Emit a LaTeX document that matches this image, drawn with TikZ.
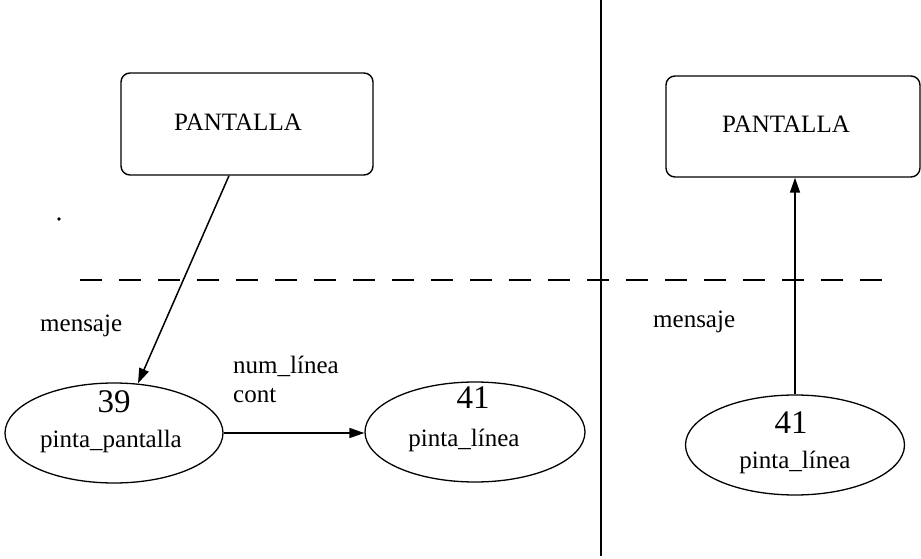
\documentclass[tikz,border=0pt]{standalone}
\usepackage{fontspec}
\setmainfont{Liberation Serif}
\usetikzlibrary{arrows.meta,shapes.geometric,calc}
\begin{document}
\begin{tikzpicture}[x=1pt,y=-1pt,
  box/.style={draw,line width=1.4pt,rounded corners=9pt,inner sep=0},
  proc/.style={draw,ellipse,line width=1.3pt,inner sep=0},
  lbl/.style={inner sep=0,font=\fontsize{25}{28}\selectfont},
  num/.style={inner sep=0,font=\fontsize{33}{36}\selectfont},
  flow/.style={line width=1.5pt,-{Triangle[length=15pt,width=10pt]}},
  sep/.style={line width=1.8pt},
  dsep/.style={line width=2.6pt,dash pattern=on 22pt off 17pt},
]
\useasboundingbox (0,0) rectangle (921,559);

% separators
\draw[sep] (601,0) -- (601,556);
\draw[dsep] (80,280) -- (890,280);
\fill (59,219) circle (1.8pt);

% boxes
\node[box,minimum width=252pt,minimum height=102pt] (box1) at (247,124) {};
\node[box,minimum width=254pt,minimum height=101pt] (box2) at (793,126.5) {};
\node[lbl,anchor=base] (t1) at (238,131) {PANTALLA};
\node[lbl,anchor=base] (t2) at (786,133) {PANTALLA};

% ellipses
\node[proc,minimum width=218pt,minimum height=100pt] (ell1) at (114,433) {};
\node[proc,minimum width=220pt,minimum height=100pt] (ell2) at (475,432) {};
\node[proc,minimum width=219pt,minimum height=100pt] (ell3) at (795,445) {};

\node[num,anchor=base] (n39) at (114,412) {39};
\node[lbl,anchor=base] (pp) at (111,447) {pinta\_pantalla};
\node[num,anchor=base] (n41a) at (473,408) {41};
\node[lbl,anchor=base] (pl1) at (464,446) {pinta\_línea};
\node[num,anchor=base] (n41b) at (791,433) {41};
\node[lbl,anchor=base] (pl2) at (795,468) {pinta\_línea};

% labels
\node[lbl,anchor=base west] (m1) at (40,331) {mensaje};
\node[lbl,anchor=base west] (m2) at (653,327) {mensaje};
\node[lbl,anchor=base west] (nl) at (233,373) {num\_línea};
\node[lbl,anchor=base west] (ct) at (233,402) {cont};

% connectors
\draw[flow] ($(box1.south)+(-18,0)$) -- ($(ell1.north)+(24,1)$);
\draw[flow] (ell1.east) -- (ell1.east -| ell2.west);
\draw[flow] (ell3.north) -- (ell3.north |- box2.south);
\end{tikzpicture}
\end{document}
